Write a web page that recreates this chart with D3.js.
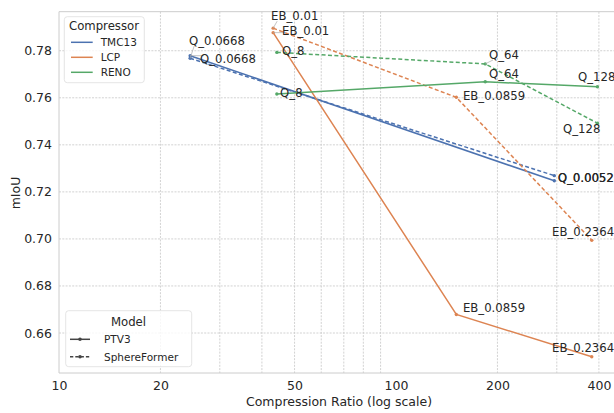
<!DOCTYPE html>
<html>
<head>
<meta charset="utf-8">
<script src="https://cdn.jsdelivr.net/npm/d3@7"></script>
<style>
  html, body { margin: 0; padding: 0; background: #fff; }
  svg { display: block; font-family: "DejaVu Sans", sans-serif; }
</style>
</head>
<body>
<svg id="chart" width="614" height="413"></svg>
<script>
// compressors and their colours (seaborn deep)
const compressors = ['TMC13', 'LCP', 'RENO'];
const palette = ['#4c72b0', '#dd8452', '#55a868'];
const models = ['PTV3', 'SphereFormer'];

// compression ratio per operating point
const tmcRatio = [24.5, 295];
const lcpRatio = [43.2, 151, 381];
const renoRatio = [44.3, 184, 396];

// mIoU per model
const tmcPtv3 = [0.7779, 0.7247];
const tmcSphere = [0.7768, 0.7269];
const lcpPtv3 = [0.7877, 0.6679, 0.6499];
const lcpSphere = [0.7896, 0.7602, 0.6994];
const renoPtv3 = [0.7616, 0.7668, 0.7647];
const renoSphere = [0.7793, 0.7744, 0.7492];

// point tags
const tmcTags = ['Q_0.0668', 'Q_0.0052'];
const lcpTags = ['EB_0.01', 'EB_0.0859', 'EB_0.2364'];
const renoTags = ['Q_8', 'Q_64', 'Q_128'];

// where each tag text sits (ratio, mIoU of left/baseline), and if it has a leader line
const tmcPtv3Spots = [[26.2, 0.7748, 1], [302.5, 0.7242, 0]];
const tmcSphereSpots = [[24.3, 0.7824, 1], [302, 0.7242, 0]];
const lcpPtv3Spots = [[45.9, 0.7867, 1], [158, 0.6690, 0], [290.4, 0.6521, 0]];
const lcpSphereSpots = [[42.6, 0.7930, 1], [158, 0.7591, 0], [290.4, 0.7013, 0]];
const renoPtv3Spots = [[45.3, 0.7603, 0], [188.8, 0.7684, 0], [346.8, 0.7671, 0]];
const renoSphereSpots = [[45.9, 0.7782, 0], [188.8, 0.7765, 1], [313, 0.7451, 0]];

const xMajor = [10, 20, 50, 100, 200, 400];
const xMinor = [20, 30, 40, 50, 60, 70, 80, 90, 200, 300, 400];
const yTicks = [0.66, 0.68, 0.70, 0.72, 0.74, 0.76, 0.78];

const lines = [
  { c: 0, m: 0, ratio: tmcRatio, miou: tmcPtv3, tags: tmcTags, spots: tmcPtv3Spots },
  { c: 0, m: 1, ratio: tmcRatio, miou: tmcSphere, tags: tmcTags, spots: tmcSphereSpots },
  { c: 1, m: 0, ratio: lcpRatio, miou: lcpPtv3, tags: lcpTags, spots: lcpPtv3Spots },
  { c: 1, m: 1, ratio: lcpRatio, miou: lcpSphere, tags: lcpTags, spots: lcpSphereSpots },
  { c: 2, m: 0, ratio: renoRatio, miou: renoPtv3, tags: renoTags, spots: renoPtv3Spots },
  { c: 2, m: 1, ratio: renoRatio, miou: renoSphere, tags: renoTags, spots: renoSphereSpots }
];

const svg = d3.select('#chart');
const pLeft = 59, pTop = 11.7, pBottom = 373;
const x = d3.scaleLog().domain([10, 480]).range([pLeft, pLeft + 337 * Math.log10(48)]);
const y = d3.scaleLinear().domain([0.643, 0.7966]).range([pBottom, pTop]);
const pRight = x.range()[1];
const dash = '4,2.4';
const textCol = '#262626';

svg.append('defs').append('clipPath').attr('id', 'plot')
  .append('rect').attr('x', pLeft).attr('y', pTop)
  .attr('width', pRight - pLeft).attr('height', pBottom - pTop);

// grid
const grid = svg.append('g').attr('stroke', '#cdcdcd').attr('stroke-width', 0.9)
  .attr('stroke-dasharray', '2,1.3');
grid.selectAll('line.gx').data(xMinor).join('line')
  .attr('x1', d => x(d)).attr('x2', d => x(d)).attr('y1', pTop).attr('y2', pBottom);
grid.selectAll('line.gy').data(yTicks).join('line')
  .attr('x1', pLeft).attr('x2', pRight).attr('y1', d => y(d)).attr('y2', d => y(d));

// spines
const spine = svg.append('g').attr('stroke', '#cccccc').attr('stroke-width', 1);
spine.append('line').attr('x1', pLeft).attr('x2', pLeft).attr('y1', pTop).attr('y2', pBottom);
spine.append('line').attr('x1', pLeft).attr('x2', pRight).attr('y1', pBottom).attr('y2', pBottom);
spine.append('line').attr('x1', pLeft).attr('x2', pRight).attr('y1', pTop).attr('y2', pTop);

// axes
const xAxis = svg.append('g').attr('transform', `translate(0,${pBottom})`)
  .call(d3.axisBottom(x).tickValues(xMajor).tickFormat(d3.format('d')).tickSize(0).tickPadding(8));
const yAxis = svg.append('g').attr('transform', `translate(${pLeft},0)`)
  .call(d3.axisLeft(y).tickValues(yTicks).tickFormat(d3.format('.2f')).tickSize(0).tickPadding(7));
[xAxis, yAxis].forEach(a => {
  a.select('.domain').remove();
  a.selectAll('text').attr('font-size', 12.5).attr('fill', textCol)
    .attr('font-family', '"DejaVu Sans", sans-serif');
});

svg.append('text').attr('x', 339).attr('y', 406).attr('text-anchor', 'middle')
  .attr('font-size', 12.5).attr('fill', textCol).text('Compression Ratio (log scale)');
svg.append('text').attr('transform', 'translate(19.5,193) rotate(-90)').attr('text-anchor', 'middle')
  .attr('font-size', 12.5).attr('fill', textCol).text('mIoU');

// series
const plot = svg.append('g').attr('clip-path', 'url(#plot)');
const line = d3.line().x(d => x(d[0])).y(d => y(d[1]));

lines.forEach(s => {
  const pts = s.ratio.map((r, i) => [r, s.miou[i]]);
  plot.append('path').datum(pts)
    .attr('d', line)
    .attr('fill', 'none')
    .attr('stroke', palette[s.c])
    .attr('stroke-width', 1.5)
    .attr('stroke-dasharray', s.m ? dash : null);
  plot.selectAll(null).data(pts).join('circle')
    .attr('cx', d => x(d[0])).attr('cy', d => y(d[1]))
    .attr('r', 1.7).attr('fill', palette[s.c]);
});

// tags
const tagLayer = svg.append('g');
lines.forEach(s => {
  s.tags.forEach((t, i) => {
    const sp = s.spots[i];
    const txt = tagLayer.append('text')
      .attr('x', x(sp[0])).attr('y', y(sp[1]))
      .attr('font-size', 11.7).attr('fill', textCol).text(t);
    if (sp[2]) {
      const b = txt.node().getBBox();
      const px = x(s.ratio[i]), py = y(s.miou[i]);
      const ex = Math.max(b.x, Math.min(px, b.x + b.width));
      const ey = Math.max(b.y + 2, Math.min(py, b.y + b.height - 2));
      tagLayer.insert('line', 'text')
        .attr('x1', px).attr('y1', py).attr('x2', ex + 4).attr('y2', ey)
        .attr('stroke', '#aaaaaa').attr('stroke-width', 0.7);
    }
  });
});

// legends
function legendBox(g, x0, y0, w, h) {
  g.append('rect').attr('x', x0).attr('y', y0).attr('width', w).attr('height', h)
    .attr('rx', 3).attr('fill', '#fff').attr('fill-opacity', 0.8)
    .attr('stroke', '#dddddd').attr('stroke-width', 0.8);
}

const lg1 = svg.append('g');
legendBox(lg1, 64.3, 16.7, 80, 66);
lg1.append('text').attr('x', 69).attr('y', 30).attr('font-size', 11.7).attr('fill', textCol).text('Compressor');
const e1 = lg1.selectAll('g.e').data(compressors).join('g')
  .attr('transform', (d, i) => `translate(0,${42.3 + i * 15})`);
e1.append('line').attr('x1', 71).attr('x2', 92.7).attr('y1', 0).attr('y2', 0)
  .attr('stroke', (d, i) => palette[i]).attr('stroke-width', 1.5);
e1.append('text').attr('x', 100.7).attr('y', 3.8).attr('font-size', 10.5).attr('fill', textCol).text(d => d);

const lg2 = svg.append('g');
legendBox(lg2, 65.7, 310.7, 126, 56);
lg2.append('text').attr('x', 128.5).attr('y', 325.8).attr('text-anchor', 'middle')
  .attr('font-size', 11.7).attr('fill', textCol).text('Model');
const e2 = lg2.selectAll('g.e').data(models).join('g')
  .attr('transform', (d, i) => `translate(0,${339.3 + i * 17.4})`);
e2.append('line').attr('x1', 70).attr('x2', 90).attr('y1', 0).attr('y2', 0)
  .attr('stroke', '#444').attr('stroke-width', 1.5)
  .attr('stroke-dasharray', (d, i) => i ? '3.3,2' : null);
e2.append('circle').attr('cx', 80).attr('cy', 0).attr('r', 1.8).attr('fill', '#444');
e2.append('text').attr('x', 104).attr('y', 3.8).attr('font-size', 10.5).attr('fill', textCol).text(d => d);
</script>
</body>
</html>
